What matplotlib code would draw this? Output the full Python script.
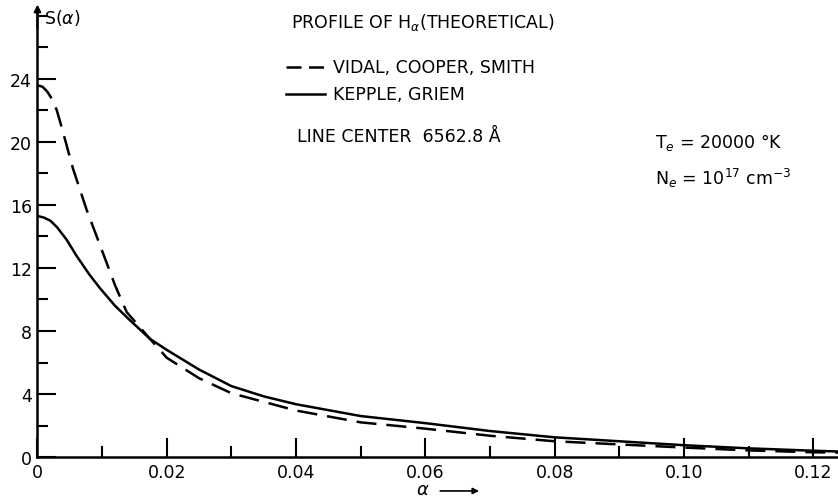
import matplotlib
matplotlib.use("Agg")
import matplotlib.pyplot as plt
from matplotlib.ticker import MultipleLocator

# ── datos ──
alpha_kg = [0, 0.001, 0.002, 0.003, 0.0045, 0.006, 0.008, 0.0097, 0.012, 0.014, 0.0174,
            0.02, 0.025, 0.03, 0.035, 0.04, 0.05, 0.06, 0.07, 0.08, 0.09,
            0.10, 0.11, 0.12, 0.1238]
s_kg = [15.3, 15.2, 15.0, 14.6, 13.8, 12.8, 11.6, 10.7, 9.6, 8.8, 7.5,
        6.8, 5.55, 4.5, 3.85, 3.35, 2.6, 2.15, 1.65, 1.25, 1.0,
        0.75, 0.55, 0.4, 0.35]

alpha_vcs = [0, 0.0008, 0.0015, 0.0023, 0.003, 0.0037, 0.0055, 0.0076, 0.0099, 0.012,
             0.0138, 0.0174, 0.02, 0.025, 0.03, 0.04, 0.05, 0.06, 0.07, 0.08, 0.09,
             0.10, 0.11, 0.12, 0.1238]
s_vcs = [23.6, 23.5, 23.2, 22.7, 22.0, 21.0, 18.3, 15.7, 13.2, 10.9,
         9.2, 7.5, 6.3, 5.0, 4.05, 2.95, 2.2, 1.8, 1.35, 1.0, 0.8,
         0.6, 0.42, 0.3, 0.28]

y_ticks = [0, 4, 8, 12, 16, 20, 24]
x_ticks = [0, 0.02, 0.04, 0.06, 0.08, 0.10, 0.12]
x_labels = ["0", "0.02", "0.04", "0.06", "0.08", "0.10", "0.12"]

plt.rcParams["font.family"] = ["DejaVu Sans"]
fig = plt.figure(figsize=(8.38, 5.02), dpi=100)
ax = fig.add_axes([0.0447, 0.0876, 0.9553, 0.8944])

ax.plot(alpha_vcs, s_vcs, color="black", lw=1.8, dashes=(8, 4))
ax.plot(alpha_kg, s_kg, color="black", lw=1.8)

ax.set_xlim(0, 0.1238)
ax.set_ylim(0, 28.5)
ax.spines[["top", "right"]].set_visible(False)
ax.spines[["left", "bottom"]].set_linewidth(1.8)

ax.set_xticks(x_ticks)
ax.set_xticklabels(x_labels)
ax.set_yticks(y_ticks)
ax.xaxis.set_minor_locator(MultipleLocator(0.01))
ax.yaxis.set_minor_locator(MultipleLocator(2))
ax.tick_params(axis="both", which="major", direction="in", length=14, width=1.5,
               labelsize=12.5, color="black")
ax.tick_params(axis="both", which="minor", direction="in", length=8, width=1.5)
ax.tick_params(axis="x", pad=4)
ax.tick_params(axis="y", pad=4)

# flecha del eje y y etiquetas
ax.annotate("", xy=(0, 28.9), xytext=(0, 27.0), xycoords="data",
            arrowprops=dict(arrowstyle="-|>", color="black", lw=1.5,
                            mutation_scale=10), annotation_clip=False)
fig.text(0.052, 0.965, r"S($\alpha$)", fontsize=12.5, va="center", ha="left")
fig.text(0.496, 0.006, r"$\alpha$", fontsize=13, va="bottom", ha="left")
ax.annotate("", xy=(0.575, 0.02), xytext=(0.522, 0.02), xycoords="figure fraction",
            arrowprops=dict(arrowstyle="-|>", color="black", lw=1.2, mutation_scale=9),
            annotation_clip=False)

# textos
fig.lines.append(plt.Line2D([0.341, 0.388], [0.864, 0.864], transform=fig.transFigure,
                            color="black", lw=1.8, dashes=(6, 3)))
fig.lines.append(plt.Line2D([0.341, 0.388], [0.811, 0.811], transform=fig.transFigure,
                            color="black", lw=1.8))
fig.text(0.347, 0.955, r"PROFILE OF H$_\alpha$(THEORETICAL)", fontsize=12.5, va="center")
fig.text(0.397, 0.864, "VIDAL, COOPER, SMITH", fontsize=12.5, va="center")
fig.text(0.397, 0.811, "KEPPLE, GRIEM", fontsize=12.5, va="center")
fig.text(0.355, 0.727, "LINE CENTER  6562.8 Å", fontsize=12.5, va="center")
fig.text(0.782, 0.717, r"T$_e$ = 20000 °K", fontsize=12.5, va="center")
fig.text(0.782, 0.645, r"N$_e$ = 10$^{17}$ cm$^{-3}$", fontsize=12.5, va="center")

fig.savefig("out.png", dpi=100)
